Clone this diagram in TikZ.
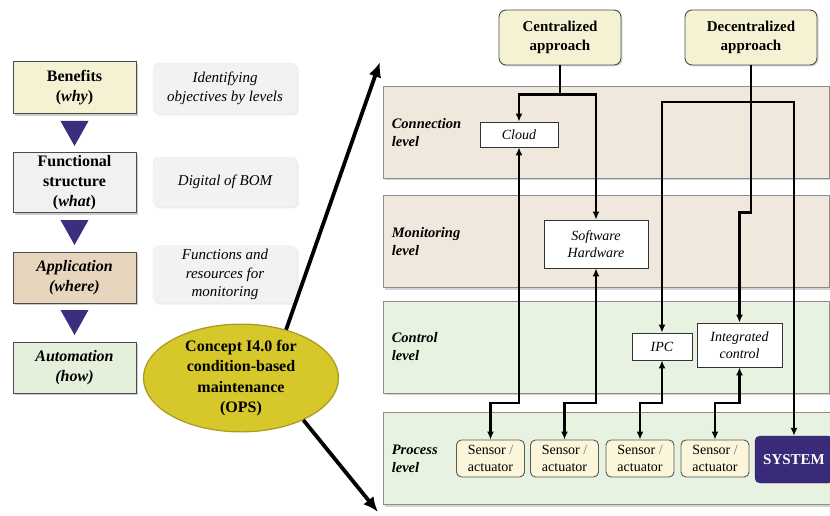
\documentclass[tikz,border=0pt]{standalone}
\usepackage{fontspec}
\setmainfont{Liberation Serif}
\usepackage{tikz}
\usetikzlibrary{arrows.meta}
\usetikzlibrary{shapes.geometric}
\usetikzlibrary{shadows}
\definecolor{pale yellow}{HTML}{F5F2D3}
\definecolor{sensor cream}{HTML}{FBF5DA}
\definecolor{light gray}{HTML}{F1F1F1}
\definecolor{note gray}{HTML}{F2F2F2}
\definecolor{light tan}{HTML}{E8D5BE}
\definecolor{light green}{HTML}{E5F0DC}
\definecolor{band tan}{HTML}{F0E7DD}
\definecolor{band green}{HTML}{E8F2E0}
\definecolor{arrow navy}{HTML}{3B2E7E}
\definecolor{system navy}{HTML}{3A2A7A}
\definecolor{ops yellow}{HTML}{D6C72B}
\definecolor{ops olive}{HTML}{A99A1C}
\tikzset{>={Latex[length=8pt,width=7pt]}}
\tikzset{
    left box/.style={draw=black!70, line width=1pt, minimum width=123pt, inner sep=1pt, align=center,
        font=\fontsize{16}{20}\selectfont\bfseries,
        drop shadow={shadow xshift=2pt, shadow yshift=-2pt, opacity=0.4}},
    note box/.style={fill=note gray, draw=black!8, rounded corners=6pt, minimum width=144pt, align=center,
        font=\fontsize{15}{18.5}\selectfont\itshape,
        drop shadow={shadow xshift=1.5pt, shadow yshift=-1.5pt, opacity=0.15}},
    ops ellipse/.style={ellipse, fill=ops yellow, draw=ops olive, line width=1.2pt, minimum width=195pt,
        minimum height=104pt, inner sep=0pt, align=center, font=\fontsize{16}{20.5}\selectfont\bfseries},
    big arrow/.style={line width=3.8pt, -{Latex[length=15pt,width=13pt]}},
    level band/.style={draw=black!45, line width=0.8pt, minimum width=446pt, minimum height=92pt,
        drop shadow={shadow xshift=2pt, shadow yshift=-2pt, opacity=0.35}},
    level label/.style={anchor=west, align=left, inner sep=1pt, font=\fontsize{14.5}{18}\selectfont\bfseries\itshape},
    approach box/.style={fill=pale yellow, draw=black!70, line width=0.9pt, rounded corners=7pt, align=center,
        font=\fontsize{15}{19}\selectfont\bfseries,
        drop shadow={shadow xshift=1.5pt, shadow yshift=-1.5pt, opacity=0.3}},
    unit box/.style={fill=white, draw=black!80, line width=0.8pt, align=center, inner sep=1pt,
        font=\fontsize{14}{17.5}\selectfont\itshape},
    sensor box/.style={fill=sensor cream, draw=black!65, line width=0.9pt, rounded corners=5pt, minimum width=68pt,
        minimum height=37pt, inner sep=1pt, align=center, font=\fontsize{14}{17.5}\selectfont},
    system box/.style={fill=system navy, draw=system navy!70!black, rounded corners=5pt, minimum width=78pt,
        minimum height=47pt, text=white, font=\fontsize{15}{18}\selectfont\bfseries},
    link/.style={line width=2.7pt}
}

\begin{document}
\begin{tikzpicture}[x=1pt, y=1pt]
    \useasboundingbox (0,0) rectangle (830,515);
    % left column
    \node[left box, fill=pale yellow, minimum height=52pt] (benefits) at (74.5,427) {Benefits\\(\textit{why})};
    \node[left box, fill=light gray, minimum height=60pt] (structure) at (74.5,332) {Functional\\structure\\(\textit{what})};
    \node[left box, fill=light tan, minimum height=51pt] (application) at (74.5,237.5) {\itshape Application\\\itshape (where)};
    \node[left box, fill=light green, minimum height=51pt] (automation) at (74.5,147.5) {\itshape Automation\\\itshape (how)};
    \foreach \a/\b in {benefits/structure, structure/application, application/automation} {
        \path (\a.south) -- (\b.north) coordinate[midway] (gap);
        \fill[arrow navy] (gap) +(-14,12.5) -- +(14,12.5) -- +(0,-12.5) -- cycle;
    }
    \node[note box, minimum height=51pt] (objectives) at (225,426.5) {Identifying\\objectives by levels};
    \node[note box, minimum height=50pt] (bom) at (225,333) {Digital of BOM};
    \node[note box, minimum height=55pt] (resources) at (225,240.5) {Functions and\\resources for\\monitoring};

    % concept and its two arrows
    \coordinate (up end) at (380,453);
    \coordinate (down end) at (378,3);
    \node[ops ellipse] (ops) at (241,137) {Concept I4.0 for\\condition-based\\maintenance\\(OPS)};
    \draw[big arrow] (ops.47) -- (up end);
    \draw[big arrow] (ops.-34) -- (down end);

    % levels
    \node[level band, fill=band tan] (connection) at (606,382.5) {};
    \node[level band, fill=band tan] (monitoring) at (606,273.5) {};
    \node[level band, fill=band green] (control) at (606,168) {};
    \node[level band, fill=band green, minimum width=450pt] (process) at (608,56.5) {};
    \node[level label] at ([xshift=8pt]connection.west) {Connection\\level};
    \node[level label] at ([xshift=8pt]monitoring.west) {Monitoring\\level};
    \node[level label] at ([xshift=8pt]control.west) {Control\\level};
    \node[level label] at ([xshift=8pt]process.west) {Process\\level};

    \node[approach box, minimum width=122pt, minimum height=55pt] (central) at (560,477.5) {Centralized\\approach};
    \node[approach box, minimum width=132pt, minimum height=55pt] (decentral) at (751,477.5) {Decentralized\\approach};

    \node[unit box, minimum width=78pt, minimum height=25pt] (cloud) at (519,380.5) {Cloud};
    \node[unit box, minimum width=104pt, minimum height=48pt] (software) at (596,271) {Software\\Hardware};
    \node[unit box, minimum width=60pt, minimum height=27pt] (ipc) at (662,168.5) {IPC};
    \node[unit box, minimum width=85pt, minimum height=44pt] (integrated) at (739.5,170) {Integrated\\control};

    \foreach \n/\x in {1/490.5, 2/564.5, 3/640, 4/715}
        \node[sensor box] (sensor \n) at (\x,56.5) {Sensor {\color{black!55}/}\\actuator};
    \node[system box] (system) at (794,55.5) {SYSTEM};

    % connections
    \coordinate (jog) at (0,112);
    \draw[link] (central.south) -- ++(0,-29) coordinate (split);
    \draw[link, ->] (split) -| (cloud);
    \draw[link, ->] (split) -| (software);
    \draw[link, <->] (cloud) -- (cloud |- jog) -| (sensor 1);
    \draw[link, <->] (software) -- (software |- jog) -| (sensor 2);
    \draw[link, <->] (ipc) -- (ipc |- jog) -| (sensor 3);
    \draw[link, <->] (integrated) -- (integrated |- jog) -| (sensor 4);
    \draw[link, ->] (decentral.south) -- ++(0,-147) -| (integrated);
    \coordinate (branch) at (decentral.south |- 0,413);
    \draw[link, ->] (branch) -| (ipc);
    \draw[link, ->] (branch) -| (system);
\end{tikzpicture}
\end{document}
